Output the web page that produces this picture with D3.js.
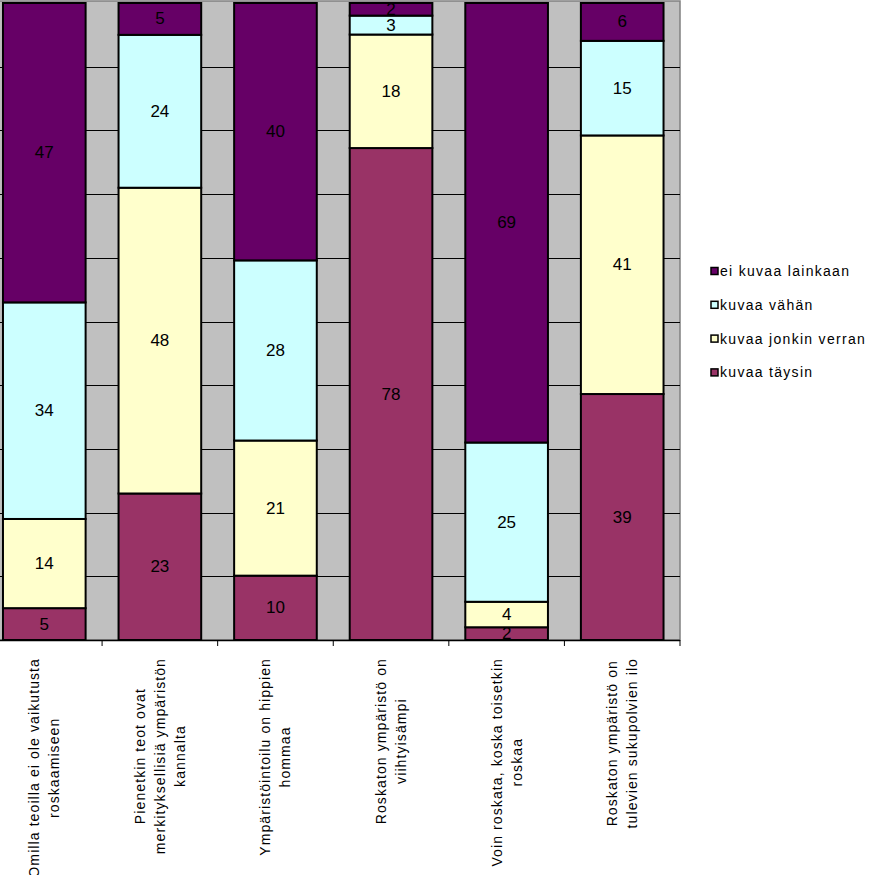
<!DOCTYPE html>
<html>
<head>
<meta charset="utf-8">
<script src="https://cdn.jsdelivr.net/npm/d3@7"></script>
<style>
  body { margin: 0; background: #fff; }
  svg { display: block; font-family: 'Liberation Sans', Arial, sans-serif; }
</style>
</head>
<body>
<div id="chart"></div>
<script>
const categories = [
  ['Omilla teoilla ei ole vaikutusta', 'roskaamiseen'],
  ['Pienetkin teot ovat', 'merkityksellisiä ympäristön', 'kannalta'],
  ['Ympäristöintoilu on hippien', 'hommaa'],
  ['Roskaton ympäristö on', 'viihtyisämpi'],
  ['Voin roskata, koska toisetkin', 'roskaa'],
  ['Roskaton ympäristö on', 'tulevien sukupolvien ilo'],
];
const seriesNames = ['kuvaa täysin', 'kuvaa jonkin verran', 'kuvaa vähän', 'ei kuvaa lainkaan'];
const taysin = [5, 23, 10, 78, 2, 39];
const jonkinVerran = [14, 48, 21, 18, 4, 41];
const vahan = [34, 24, 28, 3, 25, 15];
const eiLainkaan = [47, 5, 40, 2, 69, 6];
const colors = ['#993366', '#FFFFCC', '#CCFFFF', '#660066'];
const yTicks = d3.range(0, 1.0001, 0.1);

const width = 869, height = 875;
const plot = { left: -13.5, right: 680, top: 3, bottom: 640 };

const seriesValues = [taysin, jonkinVerran, vahan, eiLainkaan];
const rows = categories.map((c, i) => {
  const row = { key: i };
  seriesNames.forEach((s, j) => { row[s] = seriesValues[j][i]; });
  return row;
});

const stack = d3.stack().keys(seriesNames).offset(d3.stackOffsetExpand);
const layers = stack(rows);

const x = d3.scaleBand()
  .domain(categories.map((c, i) => i))
  .range([plot.left, plot.right])
  .paddingInner(0.285)
  .paddingOuter(0.1425);

const y = d3.scaleLinear().domain([0, 1]).range([plot.bottom, plot.top]);

const svg = d3.select('#chart').append('svg')
  .attr('width', width)
  .attr('height', height);

// plot background
svg.append('rect')
  .attr('x', plot.left)
  .attr('y', 1)
  .attr('width', plot.right - plot.left)
  .attr('height', plot.bottom - 1)
  .attr('fill', '#C0C0C0')
  .attr('stroke', '#808080')
  .attr('stroke-width', 1.5);

// gridlines
svg.append('g')
  .selectAll('line')
  .data(yTicks.slice(1, -1))
  .enter()
  .append('line')
  .attr('x1', plot.left)
  .attr('x2', plot.right)
  .attr('y1', (d) => Math.round(y(d)) + 0.5)
  .attr('y2', (d) => Math.round(y(d)) + 0.5)
  .attr('stroke', '#000')
  .attr('stroke-width', 1);

// bars
const layer = svg.append('g')
  .selectAll('g')
  .data(layers)
  .enter()
  .append('g')
  .attr('fill', (d, i) => colors[i]);

layer.selectAll('rect')
  .data((d) => d)
  .enter()
  .append('rect')
  .attr('x', (d, i) => x(i))
  .attr('y', (d) => y(d[1]))
  .attr('width', x.bandwidth())
  .attr('height', (d) => y(d[0]) - y(d[1]))
  .attr('stroke', '#000')
  .attr('stroke-width', 2);

// value labels
layers.forEach((l, j) => {
  svg.append('g')
    .selectAll('text')
    .data(l)
    .enter()
    .append('text')
    .attr('x', (d, i) => x(i) + x.bandwidth() / 2)
    .attr('y', (d) => (y(d[0]) + y(d[1])) / 2)
    .attr('text-anchor', 'middle')
    .attr('dominant-baseline', 'central')
    .attr('font-size', 17)
    .attr('fill', '#000')
    .text((d, i) => seriesValues[j][i]);
});

// x axis
const xAxis = svg.append('g');
xAxis.append('line')
  .attr('x1', plot.left)
  .attr('x2', plot.right)
  .attr('y1', plot.bottom + 0.5)
  .attr('y2', plot.bottom + 0.5)
  .attr('stroke', '#000')
  .attr('stroke-width', 1.5);

const step = x.step();
xAxis.selectAll('.tick')
  .data(categories.map((c, i) => i))
  .enter()
  .append('line')
  .attr('x1', (i) => x(i) + x.bandwidth() + (step - x.bandwidth()) / 2)
  .attr('x2', (i) => x(i) + x.bandwidth() + (step - x.bandwidth()) / 2)
  .attr('y1', plot.bottom)
  .attr('y2', plot.bottom + 6)
  .attr('stroke', '#000')
  .attr('stroke-width', 1);

// rotated category labels
const labelTop = 658;
const lineGap = 20;
categories.forEach((lines, i) => {
  const cx = x(i) + x.bandwidth() / 2;
  const g = svg.append('g');
  const texts = g.selectAll('text')
    .data(lines)
    .enter()
    .append('text')
    .attr('font-size', 14)
    .attr('letter-spacing', 1.1)
    .attr('text-anchor', 'middle')
    .attr('dominant-baseline', 'central')
    .attr('fill', '#000')
    .text((d) => d);
  const maxLen = d3.max(texts.nodes(), (n) => n.getComputedTextLength());
  const cy = labelTop + maxLen / 2;
  texts.attr('transform', (d, k) => {
    const off = (k - (lines.length - 1) / 2) * lineGap;
    return `translate(${cx + off},${cy}) rotate(-90)`;
  });
});

// legend
const legendNames = seriesNames.slice().reverse();
const legendColors = colors.slice().reverse();
const legend = svg.append('g')
  .selectAll('g')
  .data(legendNames)
  .enter()
  .append('g')
  .attr('transform', (d, i) => `translate(711,${271 + i * 33.8})`);

legend.append('rect')
  .attr('x', 0)
  .attr('y', -3.5)
  .attr('width', 7)
  .attr('height', 7)
  .attr('fill', (d, i) => legendColors[i])
  .attr('stroke', '#000')
  .attr('stroke-width', 1.5);

legend.append('text')
  .attr('x', 9)
  .attr('y', 0)
  .attr('dominant-baseline', 'central')
  .attr('font-size', 14)
  .attr('letter-spacing', 1.3)
  .attr('fill', '#000')
  .text((d) => d);
</script>
</body>
</html>
